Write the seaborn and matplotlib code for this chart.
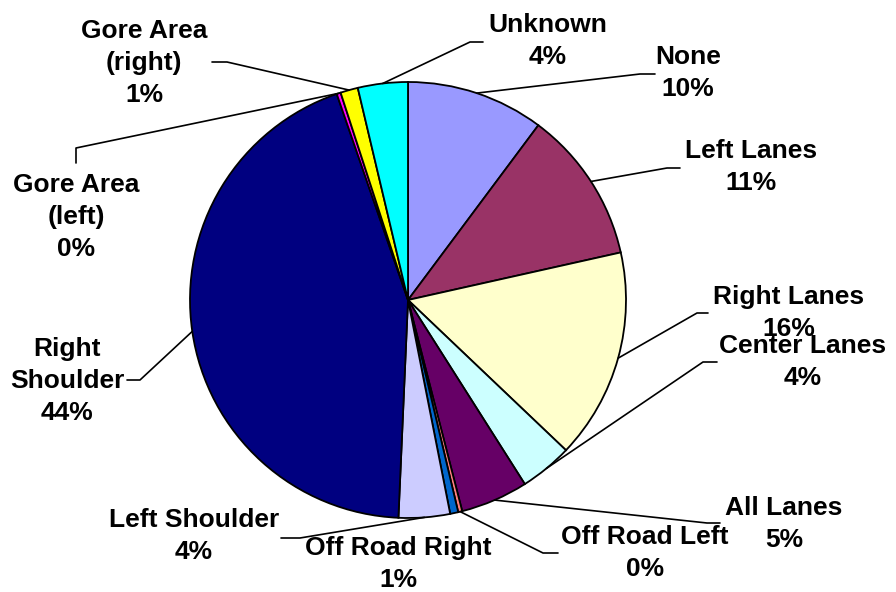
import numpy as np
import matplotlib
matplotlib.use("Agg")
import matplotlib.pyplot as plt
import seaborn as sns

# ---- data ----
categories = ["None", "Left Lanes", "Right Lanes", "Center Lanes", "All Lanes",
              "Off Road Left", "Off Road Right", "Left Shoulder", "Right\nShoulder",
              "Gore Area\n(left)", "Gore Area\n(right)", "Unknown"]
shares = [10.2, 11.3, 15.6, 3.9, 5.0, 0.3, 0.6, 3.8, 44.0, 0.3, 1.3, 3.7]
colors_hex = ["#9999FF", "#993366", "#FFFFCC", "#CCFFFF", "#660066", "#FF8080",
              "#0066CC", "#CCCCFF", "#000080", "#FF00FF", "#FFFF00", "#00FFFF"]

# ---- layout (pixel coordinates, y measured from top) ----
W, H = 896, 592
CX, CY, R = 408, 300, 218
label_pos = [(688, 73), (751, 167), (789, 313), (803, 362), (784, 524),
             (645, 553), (398, 564), (194, 536), (67, 381), (76, 217),
             (144, 63), (548, 41)]
leader = [[(640, 74), (655, 74)], [(667, 168), (680, 168)],
          [(697, 313), (708, 313)], [(703, 362), (717, 362)],
          [(707, 523), (720, 523)], [(543, 553), (558, 553)],
          None, [(300, 538), (281, 538)], [(140, 380), (127, 380)],
          [(76, 148), (76, 163)], [(227, 62), (212, 62)],
          [(470, 42), (483, 42)]]

sns.set_theme(style="white")
plt.rcParams['font.family'] = ['Liberation Sans', 'DejaVu Sans']
palette = sns.color_palette(colors_hex)

fig = plt.figure(figsize=(W / 100, H / 100), dpi=100)
ax = fig.add_axes([0, 0, 1, 1])

wedges, _ = ax.pie(shares, colors=palette, startangle=90, counterclock=False,
                   center=(CX, H - CY), radius=R,
                   wedgeprops=dict(edgecolor="black", linewidth=1.3))
ax.set_xlim(0, W)
ax.set_ylim(0, H)
ax.set_aspect("equal")
ax.axis("off")

for w, cat, val, pos, ld in zip(wedges, categories, shares, label_pos, leader):
    mid = np.deg2rad((w.theta1 + w.theta2) / 2)
    ax_pt = (CX + R * np.cos(mid), H - CY + R * np.sin(mid))
    if ld is not None:
        xs = [ax_pt[0]] + [p[0] for p in ld]
        ys = [ax_pt[1]] + [H - p[1] for p in ld]
        ax.plot(xs, ys, color="black", linewidth=1.2)
    ax.text(pos[0], H - pos[1], f"{cat}\n{int(round(val))}%", ha="center",
            va="center", fontsize=19, fontweight="bold", linespacing=1.42,
            color="black")

fig.savefig("out.png", dpi=100, facecolor="white")
